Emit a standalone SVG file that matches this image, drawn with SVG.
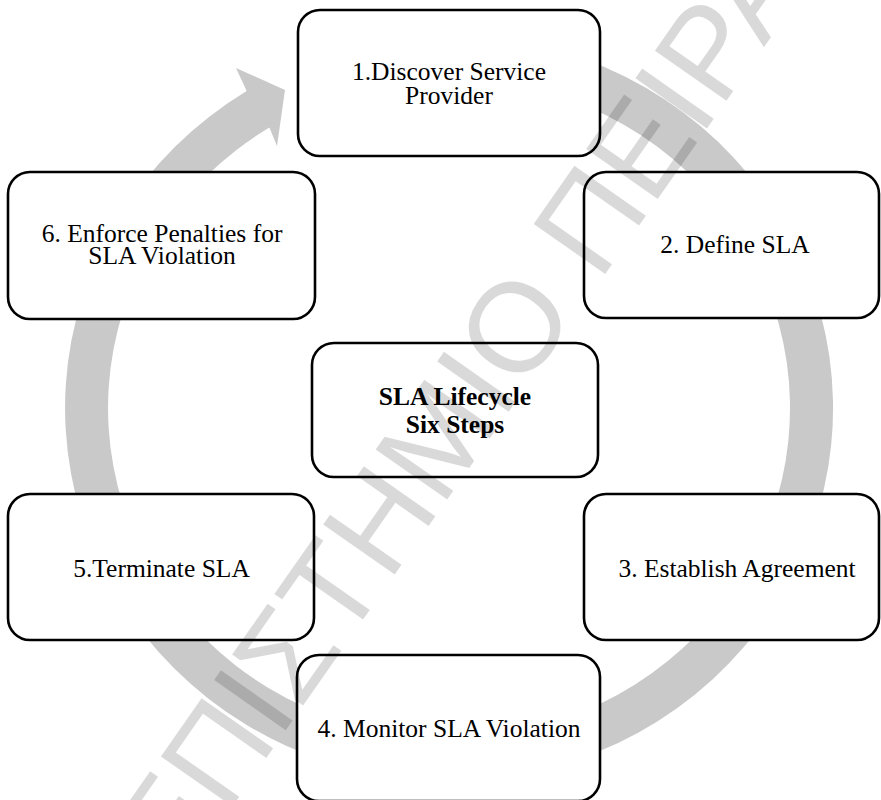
<svg xmlns="http://www.w3.org/2000/svg" width="881" height="800" viewBox="0 0 881 800">
  <style>
    .box { fill: #ffffff; stroke: #000000; stroke-width: 2.6; }
    .lbl { font-family: "Liberation Serif", "Times New Roman", Times, serif; font-size: 25.5px; font-weight: normal; fill: #000000; text-anchor: middle; }
    .bold { font-weight: bold; }
    .ring { fill: #c9c9c9; }
    .mark { font-family: "Liberation Sans", Arial, sans-serif; font-size: 127px; fill: #000000; fill-opacity: 0.15; }
  </style>

  <!-- cycle arrow running clockwise behind the steps -->
  <g id="connectors">
    <path class="ring" d="M449,35 A384,373 0 1 1 246.7,91 L236,68 L285,90 L277,146 L269.4,127.5 A341,330 0 1 0 449,78 Z"/>
  </g>

  <g id="step1">
    <rect class="box" x="298" y="10" width="302" height="146" rx="22" ry="22"/>
    <text class="lbl" x="449" y="80">1.Discover Service</text>
    <text class="lbl" x="449" y="104">Provider</text>
  </g>

  <g id="step2">
    <rect class="box" x="584" y="172" width="295" height="146" rx="22" ry="22"/>
    <text class="lbl" x="735" y="253">2. Define SLA</text>
  </g>

  <g id="step3">
    <rect class="box" x="584" y="494" width="295" height="146" rx="22" ry="22"/>
    <text class="lbl" x="737" y="577">3. Establish Agreement</text>
  </g>

  <g id="step4">
    <rect class="box" x="297" y="655" width="303" height="146" rx="22" ry="22"/>
    <text class="lbl" x="449" y="737">4. Monitor SLA Violation</text>
  </g>

  <g id="step5">
    <rect class="box" x="8" y="494" width="306" height="146" rx="22" ry="22"/>
    <text class="lbl" x="161.5" y="577">5.Terminate SLA</text>
  </g>

  <g id="step6">
    <rect class="box" x="8" y="172" width="307" height="147" rx="22" ry="22"/>
    <text class="lbl" x="162" y="242">6. Enforce Penalties for</text>
    <text class="lbl" x="162" y="264">SLA Violation</text>
  </g>

  <g id="center">
    <rect class="box" x="312" y="343" width="286" height="134" rx="22" ry="22"/>
    <text class="lbl bold" x="455" y="405">SLA Lifecycle</text>
    <text class="lbl bold" x="455" y="433">Six Steps</text>
  </g>

  <!-- diagonal watermark across the figure -->
  <text class="mark" transform="translate(24,1104) rotate(-55)">ΠΑΝΕΠΙΣΤΗΜΙΟ ΠΕΙΡΑΙΩΣ</text>
</svg>
